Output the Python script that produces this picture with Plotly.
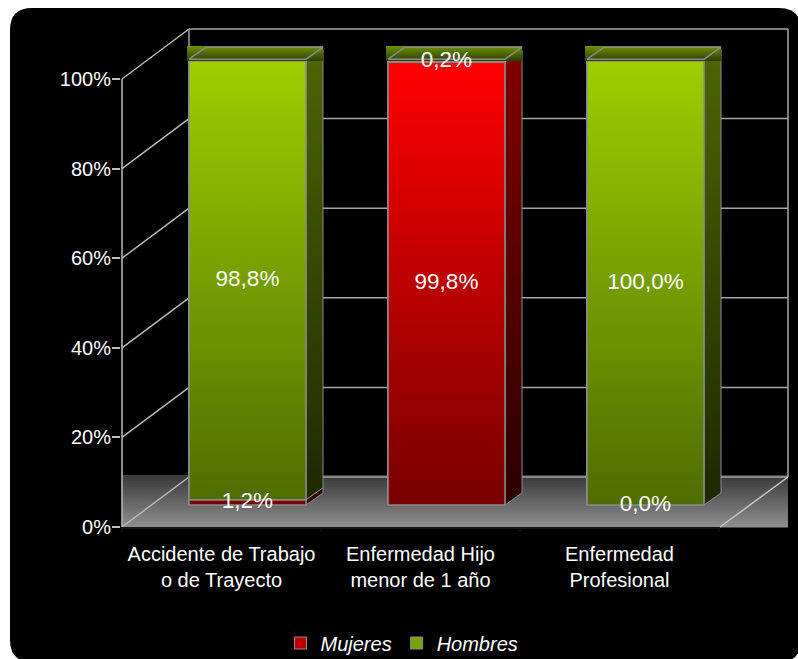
import plotly.graph_objects as go

# ---------------- data ----------------
categories = ["Accidente de Trabajo<br>o de Trayecto",
              "Enfermedad Hijo<br>menor de 1 año",
              "Enfermedad<br>Profesional"]
series_names = ["Mujeres", "Hombres"]
mujeres = [1.2, 99.8, 0.0]
hombres = [98.8, 0.2, 100.0]
y_ticks = [0, 20, 40, 60, 80, 100]
y_ticktext = ["0%", "20%", "40%", "60%", "80%", "100%"]

# ---------------- styling / geometry ----------------
FONT = "Liberation Sans, Arial, sans-serif"
W, H = 798, 659
PL, PR, PT, PB = 121, 790, 20, 535          # plot area in pixels
XS, X0PX = 199.0, 247.5                     # px per category, px of first bar centre
YS, Y0PX = 4.44, 505.0                      # px per percent, px of bar baseline


def xd(px):
    return (px - X0PX) / XS


def yd(py):
    return (Y0PX - py) / YS


def xp(px):
    return (px - PL) / (PR - PL)


def yp(py):
    return (PB - py) / (PB - PT)


BAR_W = 117 / XS
DX = 17 / XS          # bar depth (horizontal)
DDY = 12 / YS         # bar depth (vertical)
CAP_H = 15 / YS
FRONT_SHIFT = -26 / XS
GRAD_LO, GRAD_HI = 0, 100   # gradient span of the bar faces

FRONT_X, FRONT_Y0 = 122, 527
BACK_L, BACK_R, BACK_Y0 = 189, 788, 477
FLOOR_FR = 720
WALL_S = 4.48

colors = {
    "Mujeres": dict(bar="#C00000", top="#FF0000", bot="#780000", stop="#800000", sbot="#2A0000"),
    "Hombres": dict(bar="#7AA300", top="#9DCF00", bot="#4E6C00", stop="#4C6600", sbot="#1D2800"),
}
CAP_TOP, CAP_BOT = "#6E9300", "#2C3C00"
EDGE = "#8A8A8A"

fig = go.Figure()

# real stacked bars (also legend carriers)
for name, vals in zip(series_names, [mujeres, hombres]):
    fig.add_trace(go.Bar(
        x=list(range(len(categories))), y=vals, name=name, width=BAR_W,
        marker=dict(color=colors[name]["bar"], line=dict(color=EDGE, width=1)),
        hoverinfo="skip"))

# 3-D faces drawn from the same data
label_x, label_y, label_t = [], [], []
for i in range(len(categories)):
    xl, xr = i - BAR_W / 2, i + BAR_W / 2
    segs = []
    base = 0.0
    for name, vals in zip(series_names, [mujeres, hombres]):
        v = vals[i]
        segs.append((name, base, base + v, v))
        label_x.append(i)
        label_y.append(base + v / 2)
        label_t.append(f"{v:.1f}".replace(".", ",") + "%")
        base += v
    total = base
    for name, y0, y1, v in segs:
        if v <= 0:
            continue
        c = colors[name]
        fig.add_trace(go.Scatter(
            x=[xr, xr + DX, xr + DX, xr, xr], y=[y0, y0 + DDY, y1 + DDY, y1, y0],
            fill="toself", mode="lines", line=dict(color=EDGE, width=1),
            fillgradient=dict(type="vertical", start=GRAD_LO, stop=GRAD_HI + DDY,
                              colorscale=[[0, c["sbot"]], [1, c["stop"]]]),
            hoverinfo="skip", showlegend=False))
    for name, y0, y1, v in segs:
        if v <= 0:
            continue
        c = colors[name]
        fig.add_trace(go.Scatter(
            x=[xl, xr, xr, xl, xl], y=[y0, y0, y1, y1, y0],
            fill="toself", mode="lines", line=dict(color=EDGE, width=1.5),
            fillgradient=dict(type="vertical", start=GRAD_LO, stop=GRAD_HI,
                              colorscale=[[0, c["bot"]], [1, c["top"]]]),
            hoverinfo="skip", showlegend=False))
    # cap
    fig.add_trace(go.Scatter(
        x=[xl - 2 / XS, xr + DX, xr + DX, xl - 2 / XS, xl - 2 / XS],
        y=[total, total, total + CAP_H, total + CAP_H, total],
        fill="toself", mode="lines", line=dict(width=0, color=CAP_BOT),
        fillgradient=dict(type="vertical", start=total, stop=total + CAP_H,
                          colorscale=[[0, CAP_BOT], [1, CAP_TOP]]),
        hoverinfo="skip", showlegend=False))
    fig.add_trace(go.Scatter(
        x=[xl, xr, xr + DX, xl + DX, xl],
        y=[total + 0.4, total + 0.4, total + DDY + 0.4, total + DDY + 0.4, total + 0.4],
        mode="lines", line=dict(color=EDGE, width=1.5),
        hoverinfo="skip", showlegend=False))

fig.add_trace(go.Scatter(
    x=label_x, y=label_y, text=label_t, mode="text",
    textfont=dict(family=FONT, size=22.5, color="white"),
    hoverinfo="skip", showlegend=False))

# ---------------- shapes: panel, walls, floor ----------------
shapes = []
# black rounded panel
x1, y1, x2, y2, r = 10, 8, 801, 662, 22
path = (f"M {xp(x1 + r)} {yp(y1)} L {xp(x2 - r)} {yp(y1)} Q {xp(x2)} {yp(y1)} {xp(x2)} {yp(y1 + r)} "
        f"L {xp(x2)} {yp(y2 - r)} Q {xp(x2)} {yp(y2)} {xp(x2 - r)} {yp(y2)} "
        f"L {xp(x1 + r)} {yp(y2)} Q {xp(x1)} {yp(y2)} {xp(x1)} {yp(y2 - r)} "
        f"L {xp(x1)} {yp(y1 + r)} Q {xp(x1)} {yp(y1)} {xp(x1 + r)} {yp(y1)} Z")
shapes.append(dict(type="path", xref="paper", yref="paper", path=path,
                   fillcolor="black", line=dict(width=0), layer="below"))

# floor gradient
n = 26
ftop, fbot = 475.0, 527.0
for j in range(n):
    t = j / (n - 1)
    g = int(58 + t * (142 - 58))
    ya = ftop + (fbot - ftop) * j / n
    yb = ftop + (fbot - ftop) * (j + 1) / n + 0.6
    shapes.append(dict(type="rect", xref="x", yref="y", x0=xd(FRONT_X), x1=xd(BACK_R),
                       y0=yd(ya), y1=yd(yb), fillcolor=f"rgb({g},{g},{g})",
                       line=dict(width=0), layer="below"))


def line(xa, ya, xb, yb, color, width=1.5):
    shapes.append(dict(type="line", xref="x", yref="y", x0=xd(xa), y0=yd(ya), x1=xd(xb), y1=yd(yb),
                       line=dict(color=color, width=width), layer="below"))


for k in y_ticks:
    by = BACK_Y0 - WALL_S * k
    fy = FRONT_Y0 - WALL_S * k
    line(BACK_L, by, BACK_R, by, "#A4A4A4", 1.5)
    line(FRONT_X, fy, BACK_L, by, "#B8B8B8", 1.5)
line(BACK_L, BACK_Y0 - WALL_S * 100, BACK_L, BACK_Y0, "#A4A4A4", 1.5)
line(BACK_R, BACK_Y0 - WALL_S * 100, BACK_R, BACK_Y0, "#A4A4A4", 1.5)
line(FLOOR_FR, FRONT_Y0, BACK_R, BACK_Y0, "#C8C8C8", 1.5)
line(FRONT_X, FRONT_Y0 - WALL_S * 100, FRONT_X, FRONT_Y0, "#BEBEBE", 1.5)
line(FRONT_X, FRONT_Y0 + 1, FLOOR_FR, FRONT_Y0 + 1, "#141414", 2)
for j in range(len(categories) + 1):
    xx = FRONT_X + XS * j
    line(xx, FRONT_Y0, xx, FRONT_Y0 + 5, "#141414", 1.5)

# ---------------- layout ----------------
fig.update_layout(
    width=W, height=H,
    margin=dict(l=PL, r=W - PR, t=PT, b=H - PB, pad=0, autoexpand=False),
    paper_bgcolor="white", plot_bgcolor="rgba(0,0,0,0)",
    barmode="stack", bargap=0,
    shapes=shapes,
    font=dict(family=FONT, color="white", size=20),
    xaxis=dict(range=[xd(PL), xd(PR)], showgrid=False, zeroline=False, showline=False,
               tickvals=[i + FRONT_SHIFT for i in range(len(categories))],
               ticktext=categories, ticks="", tickfont=dict(family=FONT, size=20, color="white"),
               ticklabelstandoff=5, fixedrange=True, automargin=False),
    yaxis=dict(range=[yd(PB), yd(PT)], showgrid=False, zeroline=False, showline=False,
               tickvals=[yd(FRONT_Y0 - WALL_S * k) for k in y_ticks], ticktext=y_ticktext,
               ticks="outside", ticklen=8, tickwidth=1.5, tickcolor="#BEBEBE",
               tickfont=dict(family=FONT, size=20, color="white"), ticklabelstandoff=-3,
               fixedrange=True, automargin=False),
    legend=dict(orientation="h", x=xp(402), xanchor="center", y=yp(643), yanchor="middle",
                font=dict(family=FONT, size=20, color="white", style="italic"),
                bgcolor="rgba(0,0,0,0)", traceorder="normal"),
    showlegend=True,
)

fig.write_html("out.html")
